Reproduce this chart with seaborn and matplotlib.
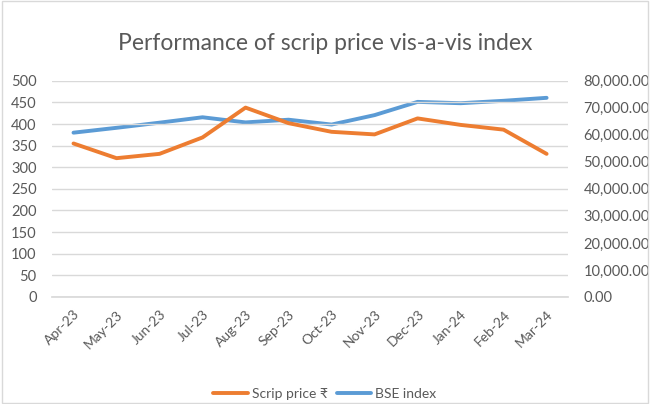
import matplotlib
matplotlib.use("Agg")
import matplotlib.pyplot as plt
from matplotlib.lines import Line2D
from matplotlib.patches import Rectangle
import seaborn as sns
import numpy as np
import pandas as pd

# data
months = ["Apr-23", "May-23", "Jun-23", "Jul-23", "Aug-23", "Sep-23",
          "Oct-23", "Nov-23", "Dec-23", "Jan-24", "Feb-24", "Mar-24"]
scrip_price = [355, 321, 331, 369, 438, 402, 382, 376, 413, 398, 387, 331]
bse_index = [60800, 62600, 64500, 66500, 64600, 65600,
             63800, 67300, 72200, 71700, 72600, 73700]

df = pd.DataFrame({"pos": np.arange(len(months)), "month": months,
                   "scrip": scrip_price, "bse": bse_index})

sns.set_theme(style="white")
plt.rcParams['font.family'] = ['Lato', 'DejaVu Sans']
txt = "#595959"
grid_c = "#d9d9d9"
orange = "#ED7D31"
blue = "#5B9BD5"

fig = plt.figure(figsize=(6.5, 4.04), dpi=100)
ax = fig.add_axes([0.08, 0.265, 0.794, 0.535])
ax2 = ax.twinx()

sns.lineplot(data=df, x="pos", y="scrip", ax=ax, color=orange, linewidth=2.8, legend=False)
sns.lineplot(data=df, x="pos", y="bse", ax=ax2, color=blue, linewidth=2.8, legend=False)
ax.set_zorder(ax2.get_zorder() + 1)
ax.patch.set_visible(False)

ax.set_xlim(-0.5, len(months) - 0.5)
ax.set_ylim(0, 500)
ax2.set_ylim(0, 80000)
ax.set_yticks(np.arange(0, 501, 50))
ax2.set_yticks(np.arange(0, 80001, 10000))
ax2.set_yticklabels([f"{v:,.2f}" for v in np.arange(0, 80001, 10000)])
ax.yaxis.grid(True, color=grid_c, linewidth=1)
ax.set_axisbelow(True)

ax.set_xticks(df["pos"])
ax.set_xticklabels(months, rotation=45, ha="right", rotation_mode="anchor")
ax.set_xticks(np.arange(-0.5, len(months)), minor=True)
ax.tick_params(axis="x", which="major", length=0, pad=8, labelsize=10, labelcolor=txt)
ax.tick_params(axis="x", which="minor", length=5, color=grid_c, width=1, direction="out")
ax.tick_params(axis="y", length=0, pad=11, labelsize=10.5, labelcolor=txt)
ax2.tick_params(axis="y", length=0, pad=11, labelsize=10.5, labelcolor=txt)
for a in (ax, ax2):
    a.set_xlabel("")
    a.set_ylabel("")
    for s in ("left", "right", "top"):
        a.spines[s].set_visible(False)
ax.spines["bottom"].set_color(grid_c)
ax2.spines["bottom"].set_visible(False)

fig.text(0.5, 0.893, "Performance of scrip price vis-a-vis index", ha="center",
         va="center", fontsize=16.5, color=txt)

handles = [Line2D([], [], color=orange, linewidth=2.8),
           Line2D([], [], color=blue, linewidth=2.8)]
fig.legend(handles, ["Scrip price ₹", "BSE index"], loc="center",
           bbox_to_anchor=(0.5, 0.025), ncol=2, frameon=False, fontsize=10,
           labelcolor=txt, handlelength=2.5, handletextpad=0.3, columnspacing=0.6)

fig.patches.append(Rectangle((0.003, 0.003), 0.994, 0.994, transform=fig.transFigure,
                             fill=False, edgecolor=grid_c, linewidth=1))

fig.savefig("out.png", dpi=100)
